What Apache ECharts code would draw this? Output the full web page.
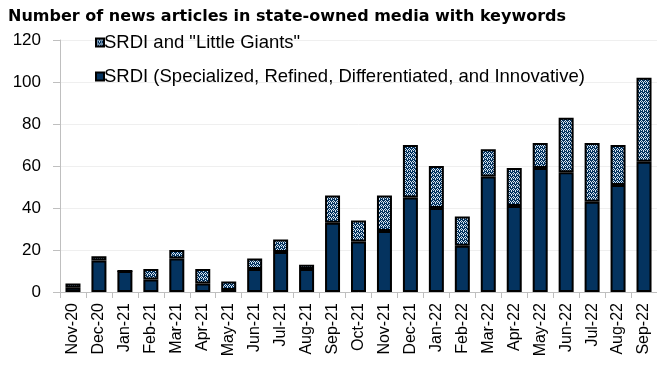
<!DOCTYPE html>
<html>
<head>
<meta charset="utf-8">
<script src="https://cdn.jsdelivr.net/npm/echarts@6/dist/echarts.min.js"></script>
<style>
  html, body { margin: 0; padding: 0; background: #fff; }
  #chart { width: 657px; height: 366px; }
</style>
</head>
<body>
<div id="chart"></div>
<script>
// Monthly article counts, Nov 2020 – Sep 2022
const months = ['Nov-20','Dec-20','Jan-21','Feb-21','Mar-21','Apr-21','May-21','Jun-21','Jul-21','Aug-21','Sep-21','Oct-21','Nov-21','Dec-21','Jan-22','Feb-22','Mar-22','Apr-22','May-22','Jun-22','Jul-22','Aug-22','Sep-22'];
const srdiOnly = [2, 15, 10, 6, 16, 4, 1, 11, 19, 11, 33, 24, 29, 45, 40, 22, 55, 41, 59, 57, 43, 51, 62];
const srdiGiants = [2, 2, 0, 5, 4, 7, 4, 5, 6, 2, 13, 10, 17, 25, 20, 14, 13, 18, 12, 26, 28, 19, 40];
const yTicks = [0, 20, 40, 60, 80, 100, 120];

const NAVY = '#04335f';
const FONT = 'Liberation Sans, Arial, sans-serif';

// Small repeating tile: navy ground with a light diamond lattice
function makeHatch() {
  const c = document.createElement('canvas');
  c.width = 4; c.height = 4;
  const g = c.getContext('2d');
  g.fillStyle = NAVY;
  g.fillRect(0, 0, 4, 4);
  g.fillStyle = '#d6e4f1';
  const light = [[1,0],[0,1],[2,1],[1,2],[3,3],[3,2]];
  light.forEach(([x, y]) => g.fillRect(x, y, 1, 1));
  return c;
}
const hatch = { image: makeHatch(), repeat: 'repeat' };

const chart = echarts.init(document.getElementById('chart'));
chart.setOption({
  animation: false,
  textStyle: { fontFamily: FONT },
  title: {
    text: 'Number of news articles in state-owned media with keywords',
    left: 3, top: 4,
    textStyle: { fontSize: 16, fontWeight: 'bold', color: '#000', fontFamily: 'DejaVu Sans, sans-serif' }
  },
  legend: {
    orient: 'vertical',
    left: 90, top: 27,
    itemWidth: 8, itemHeight: 8,
    itemGap: 13,
    icon: 'rect',
    data: ['SRDI and "Little Giants"', 'SRDI (Specialized, Refined, Differentiated, and Innovative)'],
    textStyle: { fontSize: 18.5, lineHeight: 21, color: '#000', padding: [0, 0, 0, -5] }
  },
  grid: { left: 60, top: 40, width: 605, height: 252 },
  xAxis: {
    type: 'category',
    data: months,
    axisLine: { lineStyle: { color: '#bfbfbf', width: 1 } },
    axisTick: { show: true, length: 6, lineStyle: { color: '#bfbfbf' } },
    axisLabel: { rotate: 90, fontSize: 16, color: '#000', margin: 11, interval: 0 }
  },
  yAxis: {
    type: 'value',
    min: yTicks[0], max: yTicks[yTicks.length - 1], interval: 20,
    axisLine: { show: true, lineStyle: { color: '#bfbfbf' } },
    axisTick: { show: true, length: 7, lineStyle: { color: '#bfbfbf' } },
    axisLabel: { fontSize: 17, color: '#000', margin: 19 },
    splitLine: { lineStyle: { color: '#efefef' } }
  },
  series: [
    {
      name: 'SRDI (Specialized, Refined, Differentiated, and Innovative)',
      type: 'bar', stack: 'total',
      data: srdiOnly,
      barWidth: 15,
      itemStyle: { color: NAVY, borderColor: '#000', borderWidth: 2 }
    },
    {
      name: 'SRDI and "Little Giants"',
      type: 'bar', stack: 'total',
      data: srdiGiants,
      barWidth: 15,
      itemStyle: { color: hatch, borderColor: '#000', borderWidth: 2 }
    }
  ]
});
</script>
</body>
</html>
